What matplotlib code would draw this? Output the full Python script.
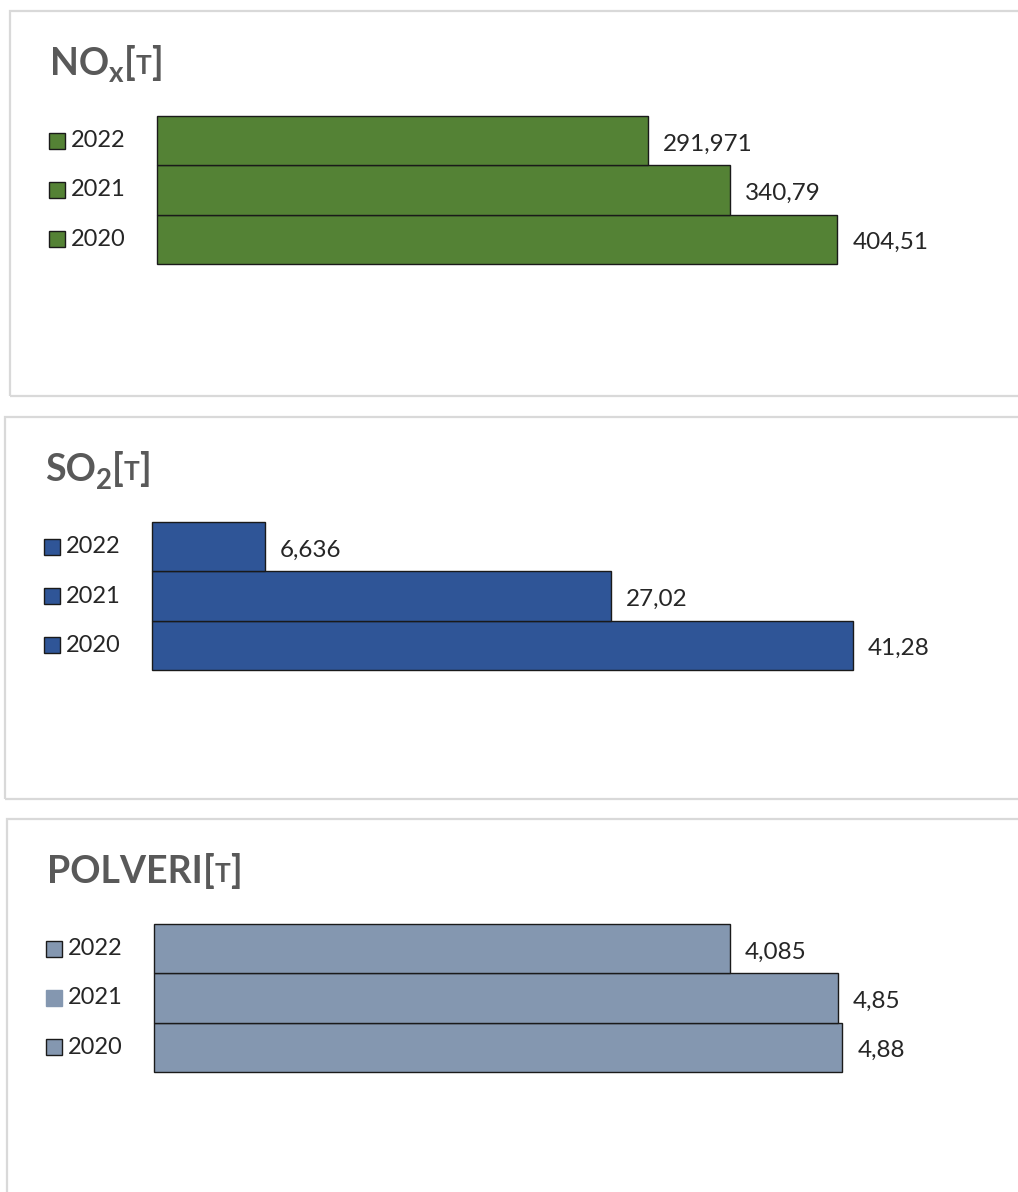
import matplotlib
matplotlib.use("Agg")
import matplotlib.pyplot as plt
from matplotlib.patches import Rectangle
from matplotlib.transforms import blended_transform_factory

# data
years = ["2020", "2021", "2022"]
nox_values = [404.51, 340.79, 291.971]
so2_values = [41.28, 27.02, 6.636]
polveri_values = [4.88, 4.85, 4.085]

nox_color = "#548235"
so2_color = "#2f5597"
polveri_color = "#8497b0"

W, H = 1018, 1192
FONT = "Lato"
TITLE_COLOR = "#595959"
TEXT_COLOR = "#262626"

fig = plt.figure(figsize=(W / 100, H / 100), dpi=100)
fig.patch.set_facecolor("white")
renderer = fig.canvas.get_renderer()


def fx(px):
    return px / W


def fy(py):
    return 1 - py / H


def draw_title(x, y, parts):
    # parts: (text, size, baseline shift px)
    for txt, size, dy in parts:
        t = fig.text(fx(x), fy(y + dy), txt, fontsize=size, fontweight="bold",
                     color=TITLE_COLOR, family=FONT, va="baseline", ha="left")
        bb = t.get_window_extent(renderer)
        x += bb.width


def panel(box, title_parts, values, color, scale, no_edge_legend=None):
    bx, by, bx2, by2 = box
    fig.add_artist(Rectangle((fx(bx), fy(by2)), fx(bx2 - bx), (by2 - by) / H,
                             transform=fig.transFigure, fill=False,
                             edgecolor="#d9d9d9", linewidth=1.6))
    draw_title(bx + 40, by + 64, title_parts)

    left = bx + 147
    top = by + 105
    ax = fig.add_axes([fx(left), fy(top + 148), fx(1000 - left), 148 / H])
    bars = ax.barh(range(len(years)), values, height=1.0, color=color,
                   edgecolor="#1a1a1a", linewidth=1.0)
    for b in bars:
        b.set_clip_on(False)
    ax.set_ylim(-0.5, len(years) - 0.5)
    ax.set_xlim(0, max(values) * scale)
    ax.axis("off")

    for i, v in enumerate(values):
        ax.annotate(str(v).replace(".", ","), (v, i), xytext=(11, -2.5),
                    textcoords="offset points", va="center", ha="left",
                    fontsize=17.5, color=TEXT_COLOR, family=FONT)

    tr = blended_transform_factory(fig.transFigure, ax.transData)
    for i, yr in enumerate(years):
        ec = color if no_edge_legend == yr else "#1a1a1a"
        ax.plot([fx(bx + 47)], [i], marker="s", markersize=11,
                markerfacecolor=color, markeredgecolor=ec, markeredgewidth=1.0,
                transform=tr, clip_on=False)
        ax.text(fx(bx + 61), i, yr, transform=tr, va="center", ha="left",
                fontsize=17, color=TEXT_COLOR, family=FONT)


panel((10, 11, 1040, 396),
      [("NO", 27, 0), ("x", 20, 7), ("[", 27, 0), ("T", 19, -1), ("]", 27, 0)],
      nox_values, nox_color, (1000 - 157) / 680)
panel((5, 417, 1040, 799),
      [("SO", 27, 0), ("2", 20, 8), ("[", 27, 0), ("T", 19, -1), ("]", 27, 0)],
      so2_values, so2_color, (1000 - 153) / 700)
panel((7, 819, 1040, 1210),
      [("POLVERI", 27, 0), ("[", 27, 0), ("T", 19, -1), ("]", 27, 0)],
      polveri_values, polveri_color, (1000 - 154) / 688, no_edge_legend="2021")

fig.savefig("out.png", dpi=100, facecolor="white")
